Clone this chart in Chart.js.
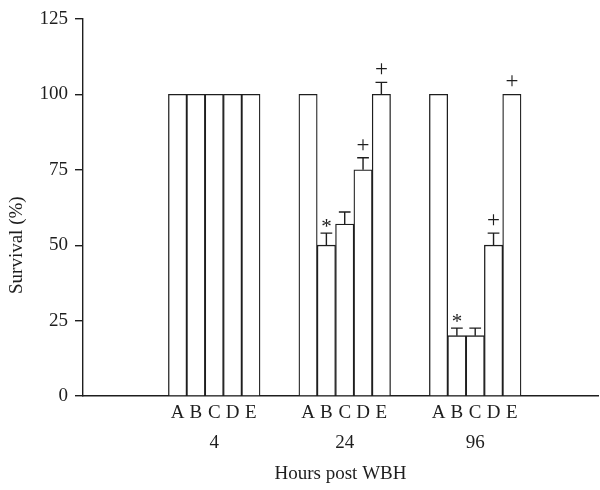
<!DOCTYPE html>
<html>
<head>
<meta charset="utf-8">
<script src="https://cdn.jsdelivr.net/npm/chart.js@4/dist/chart.umd.min.js"></script>
<style>
	html, body { margin: 0; padding: 0; background: #fff; }
	#wrap { width: 600px; height: 490px; }
</style>
</head>
<body>
<div id="wrap"><canvas id="bar-chart"></canvas></div>
<script>
// data
var hours = ['4', '24', '96'];
var treatments = ['A', 'B', 'C', 'D', 'E'];
var survival4 = [100, 100, 100, 100, 100];
var survival24 = [100, 50, 57, 75, 100];
var survival96 = [100, 20, 20, 50, 100];
var sem4 = [0, 0, 0, 0, 0];
var sem24 = [0, 4, 4, 4, 4];
var sem96 = [0, 2.5, 2.5, 4, 0];
var marks4 = ['', '', '', '', ''];
var marks24 = ['', '*', '', '+', '+'];
var marks96 = ['', '*', '', '+', '+'];
var yTicks = [0, 25, 50, 75, 100, 125];

var survival = [survival4, survival24, survival96];
var sem = [sem4, sem24, sem96];
var marks = [marks4, marks24, marks96];

// x runs in bar widths: group k sits at groupStart + k * groupStep
var groupStart = 7.16, groupStep = 7.12, xMax = 28.1;

var points = [], errs = [], signs = [], tickLabels = [], tickPos = [];
hours.forEach(function(h, k)
{
	treatments.forEach(function(t, i)
	{
		var x = groupStart + k * groupStep + (i - 2);
		points.push({x: x, y: survival[k][i]});
		errs.push(sem[k][i]);
		signs.push(marks[k][i]);
		tickPos.push(x);
		tickLabels.push(i === 2 ? [t, h] : [t]);
	});
});

var ink = '#1e1e1e';
var serif = 'Liberation Serif, Times New Roman, serif';

var errorBars = {
	id: 'errorBars',
	afterDatasetsDraw: function(chart)
	{
		var ctx = chart.ctx, y = chart.scales.y;
		var meta = chart.getDatasetMeta(0);
		ctx.save();
		ctx.strokeStyle = ink;
		ctx.fillStyle = ink;
		ctx.lineWidth = 1.4;
		meta.data.forEach(function(bar, i)
		{
			var top = points[i].y + errs[i];
			var yTop = y.getPixelForValue(top);
			if (errs[i] > 0)
			{
				var half = bar.width * 0.32;
				ctx.beginPath();
				ctx.moveTo(bar.x, bar.y);
				ctx.lineTo(bar.x, yTop);
				ctx.moveTo(bar.x - half, yTop);
				ctx.lineTo(bar.x + half, yTop);
				ctx.stroke();
			}
			if (signs[i])
			{
				var star = signs[i] === '*';
				ctx.font = (star ? '21px ' : '23px ') + serif;
				ctx.textAlign = 'center';
				ctx.textBaseline = 'alphabetic';
				ctx.fillText(signs[i], bar.x, yTop - (star ? 0 : 6));
			}
		});
		ctx.restore();
	}
};

var yTitle = {
	id: 'yTitle',
	afterDraw: function(chart)
	{
		var ctx = chart.ctx, y = chart.scales.y;
		ctx.save();
		ctx.translate(17, y.getPixelForValue(50));
		ctx.rotate(-Math.PI / 2);
		ctx.font = '19px ' + serif;
		ctx.fillStyle = ink;
		ctx.textAlign = 'center';
		ctx.textBaseline = 'middle';
		ctx.fillText('Survival (%)', 0, 0);
		ctx.restore();
	}
};

new Chart(
	document.getElementById('bar-chart')
,	{
		type: 'bar'
	,	data:
		{
			datasets:
			[
				{
					data: points
				,	backgroundColor: '#ffffff'
				,	borderColor: ink
				,	borderWidth: 1.3
				,	barPercentage: 1
				,	categoryPercentage: 1
				}
			]
		}
	,	plugins: [errorBars, yTitle]
	,	options:
		{
			responsive: true
		,	maintainAspectRatio: false
		,	animation: false
		,	layout: {padding: {top: 19, right: 2, left: 0, bottom: 0}}
		,	plugins: {legend: {display: false}, tooltip: {enabled: false}}
		,	scales:
			{
				x:
				{
					type: 'linear'
				,	min: 0
				,	max: xMax
				,	offset: false
				,	afterBuildTicks: function(axis)
					{
						axis.ticks = tickPos.map(function(v) { return {value: v}; });
					}
				,	afterFit: function(axis) { axis.height = 94; }
				,	ticks:
					{
						autoSkip: false
					,	maxRotation: 0
					,	padding: 2
					,	color: ink
					,	font: {family: serif, size: 19, lineHeight: '30px'}
					,	callback: function(value, index) { return tickLabels[index]; }
					}
				,	grid: {display: false, drawTicks: false}
				,	border: {display: true, color: ink, width: 1.4}
				,	title:
					{
						display: true
					,	text: 'Hours post WBH'
					,	color: ink
					,	font: {family: serif, size: 19}
					,	padding: {top: 0, bottom: 4.6}
					}
				}
			,	y:
				{
					min: 0
				,	max: 125
				,	afterBuildTicks: function(axis)
					{
						axis.ticks = yTicks.map(function(v) { return {value: v}; });
					}
				,	afterFit: function(axis) { axis.width = 83; }
				,	ticks:
					{
						padding: 7
					,	color: ink
					,	font: {family: serif, size: 19}
					}
				,	grid:
					{
						display: true
					,	drawOnChartArea: false
					,	drawTicks: true
					,	tickLength: 8
					,	color: ink
					,	lineWidth: 1.4
					}
				,	border: {display: true, color: ink, width: 1.4}
				}
			}
		}
	}
);
</script>
</body>
</html>
